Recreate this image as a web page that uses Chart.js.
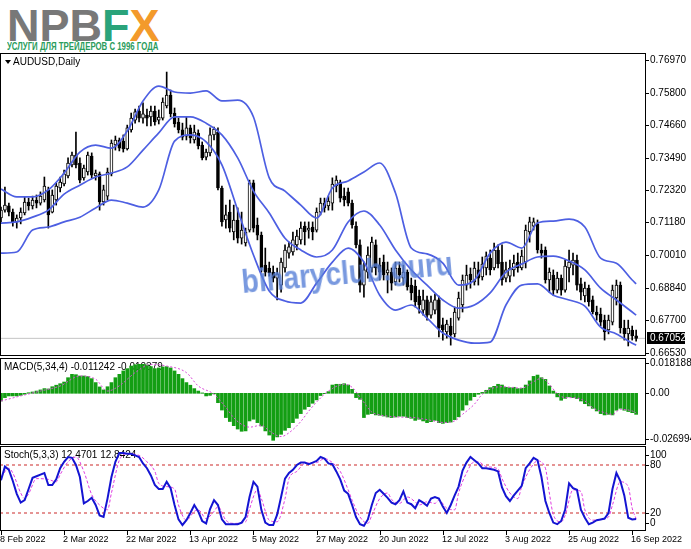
<!DOCTYPE html>
<html>
<head>
<meta charset="utf-8">
<title>AUDUSD Daily</title>
<script src="https://cdn.jsdelivr.net/npm/chart.js@4.4.1/dist/chart.umd.min.js"></script>
<style>
  body { margin:0; width:691px; height:549px; background:#fff; position:relative; overflow:hidden; }
  canvas { position:absolute; left:0; }
  #brand { position:absolute; left:7px; top:3px; font:bold 45px "Liberation Sans", Arial, sans-serif; line-height:45px; color:#787878; white-space:nowrap; }
  #tag { position:absolute; left:7px; top:42px; font:bold 10px "Liberation Sans Narrow", "Liberation Sans", sans-serif; line-height:10px; color:#2a9c5c; white-space:nowrap; transform-origin:0 0; }
  #wm { position:absolute; left:243px; top:264px; font:bold 34px "Liberation Sans Narrow", "Liberation Sans", sans-serif; line-height:34px; color:rgba(88,128,215,0.8); white-space:nowrap; transform-origin:0 100%; }
</style>
</head>
<body>
<div id="brand">NPB<span style="color:#2aa37a">F</span><span style="color:#f39a2b">X</span></div>
<div id="tag">УСЛУГИ ДЛЯ ТРЕЙДЕРОВ С 1996 ГОДА</div>
<canvas id="main" width="691" height="303" style="top:53px"></canvas>
<canvas id="macd" width="691" height="87" style="top:358px"></canvas>
<canvas id="stoch" width="691" height="103" style="top:446px"></canvas>
<div id="wm">binaryclub.guru</div>
<script>
// daily bars, 8 Feb 2022 .. 19 Sep 2022
var opens = [
0.7134,0.7162,0.7177,0.7155,0.7120,0.7134,0.7152,0.7191,0.7177,0.7198,
0.7187,0.7198,0.7234,0.7155,0.7198,0.7241,0.7255,0.7284,0.7323,0.7358,
0.7330,0.7277,0.7298,0.7355,0.7284,0.7291,0.7191,0.7212,0.7291,0.7394,
0.7412,0.7408,0.7380,0.7448,0.7483,0.7515,0.7490,0.7501,0.7494,0.7515,
0.7483,0.7490,0.7533,0.7572,0.7508,0.7476,0.7448,0.7426,0.7455,0.7412,
0.7437,0.7394,0.7351,0.7366,0.7430,0.7440,0.7241,0.7127,0.7155,0.7084,
0.7127,0.7062,0.7045,0.7091,0.7259,0.7109,0.7073,0.6966,0.6956,0.6941,
0.6920,0.6895,0.6956,0.7009,0.7013,0.7038,0.7056,0.7105,0.7091,0.7102,
0.7091,0.7155,0.7187,0.7177,0.7187,0.7248,0.7262,0.7212,0.7227,0.7187,
0.7105,0.7038,0.6895,0.6941,0.6956,0.7038,0.6966,0.6977,0.6938,0.6941,
0.6906,0.6956,0.6920,0.6941,0.6895,0.6891,0.6856,0.6806,0.6842,0.6788,
0.6806,0.6842,0.6753,0.6728,0.6749,0.6721,0.6777,0.6824,0.6895,0.6934,
0.6906,0.6949,0.6924,0.6956,0.6991,0.6956,0.7020,0.6977,0.6920,0.6927,
0.6949,0.6977,0.6956,0.6977,0.7084,0.7105,0.7113,0.7020,0.7020,0.6913,
0.6931,0.6877,0.6920,0.6877,0.6956,0.6966,0.6984,0.6899,0.6856,0.6884,
0.6842,0.6799,0.6792,0.6770,0.6735,0.6763,0.6849,0.6895,0.6742,0.6721,
0.6735,0.6714];
var highs = [
0.7173,0.7244,0.7187,0.7166,0.7145,0.7170,0.7209,0.7205,0.7212,0.7216,
0.7227,0.7280,0.7244,0.7234,0.7259,0.7280,0.7305,0.7348,0.7369,0.7440,
0.7348,0.7323,0.7369,0.7366,0.7305,0.7298,0.7251,0.7312,0.7412,0.7426,
0.7419,0.7430,0.7465,0.7508,0.7522,0.7533,0.7544,0.7522,0.7533,0.7533,
0.7519,0.7562,0.7654,0.7590,0.7526,0.7490,0.7472,0.7494,0.7465,0.7465,
0.7448,0.7405,0.7380,0.7455,0.7458,0.7455,0.7248,0.7180,0.7198,0.7180,
0.7170,0.7155,0.7098,0.7269,0.7269,0.7134,0.7084,0.7027,0.6977,0.6963,
0.6956,0.6991,0.7038,0.7048,0.7084,0.7091,0.7120,0.7120,0.7120,0.7120,
0.7170,0.7205,0.7205,0.7212,0.7277,0.7284,0.7269,0.7241,0.7241,0.7198,
0.7120,0.7056,0.6977,0.7031,0.7066,0.7056,0.6991,0.7002,0.6977,0.6956,
0.6977,0.6977,0.6966,0.6949,0.6920,0.6913,0.6877,0.6877,0.6856,0.6856,
0.6863,0.6856,0.6777,0.6770,0.6777,0.6817,0.6870,0.6931,0.6966,0.6956,
0.6977,0.6977,0.6995,0.7013,0.7020,0.7045,0.7038,0.7038,0.6977,0.6984,
0.7002,0.7009,0.7020,0.7109,0.7137,0.7134,0.7127,0.7041,0.7031,0.6956,
0.6949,0.6941,0.6931,0.6984,0.7020,0.7009,0.7002,0.6920,0.6906,0.6895,
0.6856,0.6820,0.6813,0.6788,0.6788,0.6895,0.6913,0.6906,0.6770,0.6770,
0.6749,0.6735];
var lows = [
0.7120,0.7155,0.7141,0.7105,0.7098,0.7113,0.7145,0.7162,0.7166,0.7170,
0.7180,0.7191,0.7098,0.7152,0.7180,0.7227,0.7248,0.7277,0.7316,0.7312,
0.7259,0.7269,0.7287,0.7277,0.7269,0.7162,0.7180,0.7198,0.7284,0.7376,
0.7373,0.7369,0.7376,0.7440,0.7472,0.7476,0.7472,0.7462,0.7462,0.7465,
0.7469,0.7483,0.7526,0.7494,0.7458,0.7437,0.7412,0.7412,0.7401,0.7401,
0.7380,0.7341,0.7341,0.7355,0.7412,0.7234,0.7105,0.7098,0.7084,0.7056,
0.7045,0.7041,0.7034,0.7084,0.7084,0.7056,0.6941,0.6927,0.6927,0.6906,
0.6842,0.6870,0.6941,0.6991,0.7002,0.7020,0.7041,0.7038,0.7062,0.7056,
0.7084,0.7145,0.7155,0.7162,0.7162,0.7227,0.7191,0.7177,0.7177,0.7098,
0.7027,0.6870,0.6852,0.6920,0.6941,0.6931,0.6913,0.6913,0.6867,0.6877,
0.6895,0.6906,0.6895,0.6877,0.6842,0.6817,0.6795,0.6788,0.6770,0.6777,
0.6792,0.6710,0.6699,0.6706,0.6681,0.6710,0.6770,0.6799,0.6877,0.6884,
0.6895,0.6895,0.6913,0.6931,0.6931,0.6949,0.6956,0.6895,0.6906,0.6906,
0.6927,0.6941,0.6949,0.6956,0.7048,0.7091,0.7009,0.6991,0.6902,0.6870,
0.6859,0.6867,0.6859,0.6870,0.6906,0.6931,0.6877,0.6842,0.6835,0.6820,
0.6792,0.6770,0.6749,0.6699,0.6721,0.6753,0.6824,0.6724,0.6699,0.6678,
0.6699,0.6695];
var closes = [
0.7162,0.7180,0.7155,0.7120,0.7134,0.7155,0.7191,0.7177,0.7198,0.7187,
0.7212,0.7248,0.7145,0.7216,0.7248,0.7262,0.7291,0.7330,0.7358,0.7323,
0.7269,0.7312,0.7358,0.7287,0.7294,0.7191,0.7234,0.7298,0.7401,0.7412,
0.7383,0.7380,0.7455,0.7490,0.7512,0.7490,0.7505,0.7490,0.7515,0.7476,
0.7494,0.7547,0.7572,0.7505,0.7469,0.7448,0.7422,0.7455,0.7419,0.7440,
0.7391,0.7348,0.7369,0.7430,0.7451,0.7241,0.7120,0.7145,0.7098,0.7127,
0.7062,0.7091,0.7084,0.7259,0.7098,0.7073,0.6956,0.6941,0.6938,0.6920,
0.6934,0.6977,0.7020,0.7031,0.7056,0.7070,0.7098,0.7084,0.7098,0.7084,
0.7155,0.7187,0.7170,0.7194,0.7255,0.7269,0.7205,0.7198,0.7187,0.7109,
0.7038,0.6895,0.6949,0.7002,0.7048,0.6956,0.6941,0.6931,0.6949,0.6902,
0.6956,0.6931,0.6941,0.6888,0.6867,0.6835,0.6824,0.6842,0.6788,0.6835,
0.6842,0.6742,0.6735,0.6756,0.6717,0.6799,0.6849,0.6913,0.6931,0.6913,
0.6956,0.6920,0.6970,0.6998,0.6949,0.7020,0.6970,0.6913,0.6949,0.6956,
0.6973,0.6956,0.6998,0.7091,0.7120,0.7120,0.7020,0.7009,0.6913,0.6941,
0.6877,0.6920,0.6877,0.6963,0.6977,0.6984,0.6895,0.6870,0.6884,0.6835,
0.6799,0.6788,0.6763,0.6728,0.6770,0.6877,0.6895,0.6742,0.6721,0.6742,
0.6714,0.67052];
var lastPrice = 0.67052;

// Bollinger bands, read every 4th bar
var bandIdx = [0,4,8,12,16,20,24,28,32,36,40,44,48,52,56,60,64,68,72,76,80,84,88,92,96,100,104,108,112,116,120,124,128,132,136,140,144,148,152,156,160,161];
var upper = [0.7237,0.7209,0.7209,0.7234,0.7294,0.7369,0.7394,0.7383,0.7444,0.7551,0.7604,0.7583,0.7579,0.7587,0.7551,0.7554,0.7494,0.7277,0.7230,0.7180,0.7134,0.7241,0.7266,0.7298,0.7330,0.7223,0.7027,0.7006,0.6973,0.6895,0.6913,0.7009,0.7048,0.7027,0.7116,0.7123,0.7130,0.7102,0.6991,0.6973,0.6913,0.6899];
var middle = [0.7116,0.7120,0.7137,0.7162,0.7219,0.7251,0.7280,0.7294,0.7316,0.7376,0.7437,0.7494,0.7494,0.7472,0.7430,0.7348,0.7230,0.7152,0.7062,0.7020,0.6995,0.7020,0.7120,0.7159,0.7109,0.7020,0.6949,0.6895,0.6842,0.6813,0.6824,0.6867,0.6941,0.6970,0.6995,0.6998,0.6981,0.6949,0.6884,0.6842,0.6799,0.6788];
var lower = [0.7009,0.7013,0.7091,0.7102,0.7120,0.7137,0.7170,0.7198,0.7187,0.7173,0.7234,0.7408,0.7430,0.7405,0.7323,0.7162,0.7002,0.6874,0.6838,0.6831,0.6902,0.6977,0.7027,0.6977,0.6859,0.6806,0.6824,0.6777,0.6724,0.6699,0.6688,0.6692,0.6824,0.6895,0.6899,0.6859,0.6842,0.6820,0.6745,0.6721,0.6688,0.6681];
var priceTicks = [0.76970,0.75800,0.74660,0.73490,0.72320,0.71180,0.70010,0.68840,0.67700,0.66530];

// MACD(5,34,4)
var macdHist = [
-0.0041,-0.0023,-0.0014,-0.0014,-0.0014,-0.0011,-0.0005,0.0003,0.0007,0.0012,
0.0018,0.0025,0.0023,0.0035,0.0043,0.0051,0.0060,0.0083,0.0101,0.0099,
0.0092,0.0092,0.0089,0.0078,0.0057,0.0034,0.0018,0.0035,0.0057,0.0083,
0.0101,0.0119,0.0131,0.0145,0.0152,0.0154,0.0154,0.0151,0.0142,0.0131,
0.0135,0.0140,0.0142,0.0135,0.0119,0.0101,0.0078,0.0057,0.0043,0.0025,
0.0012,0.0002,-0.0014,-0.0011,-0.0003,-0.0050,-0.0089,-0.0129,-0.0150,-0.0172,
-0.0190,-0.0202,-0.0200,-0.0147,-0.0138,-0.0156,-0.0174,-0.0200,-0.0222,-0.0250,
-0.0232,-0.0218,-0.0197,-0.0183,-0.0156,-0.0133,-0.0108,-0.0085,-0.0071,-0.0053,
-0.0035,-0.0012,-0.0002,0.0009,0.0044,0.0048,0.0048,0.0051,0.0044,0.0021,
-0.0023,-0.0032,-0.0129,-0.0112,-0.0108,-0.0115,-0.0117,-0.0121,-0.0126,-0.0129,
-0.0126,-0.0122,-0.0122,-0.0129,-0.0133,-0.0144,-0.0138,-0.0147,-0.0156,-0.0151,
-0.0144,-0.0156,-0.0160,-0.0156,-0.0153,-0.0140,-0.0125,-0.0090,-0.0062,-0.0037,
-0.0018,-0.0005,0.0005,0.0016,0.0030,0.0037,0.0048,0.0044,0.0032,0.0030,
0.0032,0.0025,0.0027,0.0044,0.0066,0.0090,0.0097,0.0083,0.0074,0.0039,
0.0012,-0.0019,-0.0037,-0.0027,-0.0019,-0.0023,-0.0028,-0.0041,-0.0055,-0.0067,
-0.0080,-0.0094,-0.0108,-0.0115,-0.0112,-0.0115,-0.0090,-0.0080,-0.0090,-0.0097,
-0.0103,-0.0112];
var sigIdx = [0,5,10,15,20,24,27,30,34,38,42,47,50,54,57,59,61,63,66,68,71,73,76,78,81,83,87,89,91,94,96,100,105,109,112,115,117,120,122,125,127,130,132,135,137,139,141,143,145,148,150,153,155,157,160,161];
var macdSig = [-0.0041,-0.0014,0.0012,0.0039,0.0092,0.0075,0.0012,0.0040,0.0110,0.0154,0.0145,0.0110,0.0039,-0.0005,-0.0075,-0.0130,-0.0165,-0.0180,-0.0170,-0.0200,-0.0230,-0.0210,-0.0150,-0.0095,-0.0025,0.0012,0.0048,0.0032,-0.0020,-0.0100,-0.0115,-0.0125,-0.0130,-0.0144,-0.0155,-0.0147,-0.0112,-0.0058,-0.0005,0.0030,0.0035,0.0030,0.0027,0.0062,0.0080,0.0048,-0.0002,-0.0023,-0.0023,-0.0041,-0.0076,-0.0103,-0.0112,-0.0085,-0.0094,-0.0104];
var macdTicks = [0.018188, 0, -0.026994];
var macdTickText = ['0.018188', '0.00', '-0.026994'];

// Stochastic(5,3,3)
var stochK = [
61,78,74,60,44,33,36,50,64,66,
68,70,55,55,62,76,84,90,89,80,
65,32,35,39,30,17,15,38,65,84,
95,95,94,94,92,90,82,76,67,55,
50,50,59,51,30,12,5,11,20,30,
22,10,7,25,36,30,12,6,6,6,
6,8,15,40,59,53,24,8,5,5,
18,40,63,70,74,80,83,83,81,83,
85,90,88,82,81,72,62,48,44,30,
15,6,4,12,30,45,49,44,39,33,
31,36,47,33,31,26,36,33,29,38,
40,38,28,20,30,42,53,73,83,90,
86,82,76,76,75,74,72,52,41,35,
42,48,54,76,82,89,86,65,35,20,
8,6,10,24,57,51,49,24,14,6,
8,11,12,13,20,50,70,60,42,14,
12,12.47];
var dIdx = [0,2,3,5,6,7,9,12,14,15,17,19,21,23,25,27,28,30,32,35,37,39,40,42,44,45,47,49,50,52,54,55,57,59,62,63,65,66,68,70,72,73,75,77,80,82,84,86,88,89,91,93,94,96,98,99,101,103,105,106,108,110,111,113,115,116,118,120,121,123,126,127,129,131,132,134,136,138,139,140,142,143,145,147,148,150,152,154,155,157,159,160,161];
var stochD = [65,76,70,45,38,44,63,62,59,68,84,90,72,43,30,24,45,86,94,92,84,72,57,53,50,30,11,22,24,13,22,28,11,7,9,25,49,38,11,9,38,63,72,82,83,88,83,72,49,36,15,7,17,38,45,37,32,40,34,30,34,32,36,26,24,45,70,84,84,78,75,63,45,38,53,74,85,76,45,18,9,17,49,47,24,11,12,15,30,59,53,26,12.84];
var stochLevels = [80, 20];
var stochTicks = [100, 80, 20, 0];

var tickIdx = [0,16,32,48,64,80,96,112,128,144,160];
var tickLabels = ['8 Feb 2022','2 Mar 2022','22 Mar 2022','13 Apr 2022','5 May 2022','27 May 2022','20 Jun 2022','12 Jul 2022','3 Aug 2022','25 Aug 2022','16 Sep 2022'];

var FONT = '10px "Liberation Sans", Arial, sans-serif';
var XMIN = -0.25, XMAX = 163.5;

function xy(idx, vals) {
  return vals.map(function (v, k) { return { x: idx[k], y: v }; });
}
function seq(vals) {
  return vals.map(function (v, i) { return { x: i, y: v }; });
}

// frame, right-hand scale labels and extra bits for one sub-window
function pane(cfg) {
  return {
    id: 'pane',
    beforeDatasetsDraw: function (chart) {
      var ctx = chart.ctx, a = chart.chartArea;
      ctx.save();
      ctx.font = FONT;
      ctx.fillStyle = '#000';
      ctx.textBaseline = 'middle';
      if (cfg.arrow) {
        ctx.beginPath();
        ctx.moveTo(5, a.top + 7); ctx.lineTo(11, a.top + 7); ctx.lineTo(8, a.top + 11);
        ctx.closePath(); ctx.fill();
      }
      ctx.fillText(cfg.title, cfg.titleX, a.top + 9);
      ctx.restore();
    },
    afterDraw: function (chart) {
      var ctx = chart.ctx, a = chart.chartArea, ys = chart.scales.y;
      ctx.save();
      ctx.strokeStyle = '#000';
      ctx.lineWidth = 1;
      ctx.strokeRect(a.left + 0.5, a.top + 0.5, a.right - a.left - 1, a.bottom - a.top - 1);
      ctx.font = FONT;
      ctx.fillStyle = '#000';
      ctx.textBaseline = 'middle';
      cfg.ticks.forEach(function (v, k) {
        var py = Math.round(ys.getPixelForValue(v));
        py = Math.min(Math.max(py, a.top + cfg.clamp[0]), a.bottom - cfg.clamp[1]);
        ctx.beginPath();
        ctx.moveTo(a.right - 1, py + 0.5); ctx.lineTo(a.right + 3, py + 0.5);
        ctx.stroke();
        ctx.fillText(cfg.texts[k], a.right + 4, py);
      });
      if (cfg.after) cfg.after(chart, ctx, a);
      ctx.restore();
    }
  };
}

function opts(ymin, ymax, bottom) {
  return {
    responsive: false,
    animation: false,
    devicePixelRatio: 1,
    events: [],
    layout: { padding: { left: 0, right: 45, top: 0, bottom: bottom || 0 } },
    plugins: { legend: { display: false }, tooltip: { enabled: false } },
    datasets: { bar: { grouped: false } },
    scales: {
      x: { type: 'linear', min: XMIN, max: XMAX, offset: false, display: false },
      y: { type: 'linear', min: ymin, max: ymax, display: false }
    }
  };
}

var bandColor = '#4d5fe2';
function band(vals) {
  return { type: 'line', data: xy(bandIdx, vals), borderColor: bandColor, borderWidth: 1.7,
           pointRadius: 0, cubicInterpolationMode: 'monotone', order: 1 };
}

new Chart(document.getElementById('main'), {
  type: 'bar',
  data: {
    datasets: [
      { type: 'line', data: [{ x: XMIN, y: lastPrice }, { x: XMAX, y: lastPrice }],
        borderColor: '#c4c4c4', borderWidth: 1, pointRadius: 0, order: 9 },
      { data: opens.map(function (o, i) { return { x: i, y: [lows[i], highs[i]] }; }),
        backgroundColor: '#000', barThickness: 1, order: 5 },
      { data: opens.map(function (o, i) { return { x: i, y: [o, closes[i]] }; }),
        backgroundColor: opens.map(function (o, i) { return closes[i] >= o ? '#fff' : '#000'; }),
        borderColor: '#000', borderWidth: 1, borderSkipped: false, barThickness: 3, order: 4 },
      band(upper), band(middle), band(lower)
    ]
  },
  options: opts(0.66423, 0.77219),
  plugins: [pane({
    title: 'AUDUSD,Daily', titleX: 13, arrow: true,
    ticks: priceTicks, texts: priceTicks.map(function (v) { return v.toFixed(5); }), clamp: [5, 3],
    after: function (chart, ctx, a) {
      var py = Math.round(chart.scales.y.getPixelForValue(lastPrice));
      ctx.fillStyle = '#000';
      ctx.fillRect(a.right + 1, py - 6, 38, 12);
      ctx.fillStyle = '#fff';
      ctx.fillText(lastPrice.toFixed(5), a.right + 4, py);
    }
  })]
});

new Chart(document.getElementById('macd'), {
  type: 'bar',
  data: {
    datasets: [
      { data: seq(macdHist), backgroundColor: '#139e13', barThickness: 3, order: 3 },
      { type: 'line', data: xy(sigIdx, macdSig), borderColor: '#d94ad9', borderWidth: 1,
        borderDash: [2, 2], pointRadius: 0, cubicInterpolationMode: 'monotone', order: 1 }
    ]
  },
  options: opts(-0.02749, 0.01877),
  plugins: [pane({
    title: 'MACD(5,34,4) -0.011242 -0.010379', titleX: 4,
    ticks: macdTicks, texts: macdTickText, clamp: [5, 6]
  })]
});

new Chart(document.getElementById('stoch'), {
  type: 'line',
  data: {
    datasets: [
      { data: [{ x: XMIN, y: stochLevels[0] }, { x: XMAX, y: stochLevels[0] }], borderColor: '#cc2a2a',
        borderWidth: 1, borderDash: [3, 3], pointRadius: 0, order: 5 },
      { data: [{ x: XMIN, y: stochLevels[1] }, { x: XMAX, y: stochLevels[1] }], borderColor: '#cc2a2a',
        borderWidth: 1, borderDash: [3, 3], pointRadius: 0, order: 5 },
      { data: xy(dIdx, stochD), borderColor: '#e03ce0', borderWidth: 1, borderDash: [3, 2],
        pointRadius: 0, cubicInterpolationMode: 'monotone', order: 2 },
      { data: seq(stochK), borderColor: '#1414d2', borderWidth: 2, pointRadius: 0, order: 1 }
    ]
  },
  options: opts(-2.5, 103.75, 18),
  plugins: [pane({
    title: 'Stoch(5,3,3) 12.4701 12.8424', titleX: 4,
    ticks: stochTicks, texts: stochTicks.map(String), clamp: [9, 8],
    after: function (chart, ctx, a) {
      var xs = chart.scales.x;
      ctx.font = '9px "Liberation Sans", Arial, sans-serif';
      ctx.textBaseline = 'middle';
      tickIdx.forEach(function (i, k) {
        var px = Math.round(xs.getPixelForValue(i));
        ctx.beginPath();
        ctx.moveTo(px + 0.5, a.bottom); ctx.lineTo(px + 0.5, a.bottom + 4);
        ctx.stroke();
        ctx.fillText(tickLabels[k], px - 1, a.bottom + 9);
      });
    }
  })]
});

// squeeze the logo line and watermark to their widths in the picture
function fit(id, w, rot) {
  var el = document.getElementById(id);
  var k = w / el.offsetWidth;
  el.style.transform = (rot ? 'rotate(' + rot + 'deg) ' : '') + 'scaleX(' + k + ')';
}
fit('tag', 151, 0);
fit('wm', 212, -5);
</script>
</body>
</html>
